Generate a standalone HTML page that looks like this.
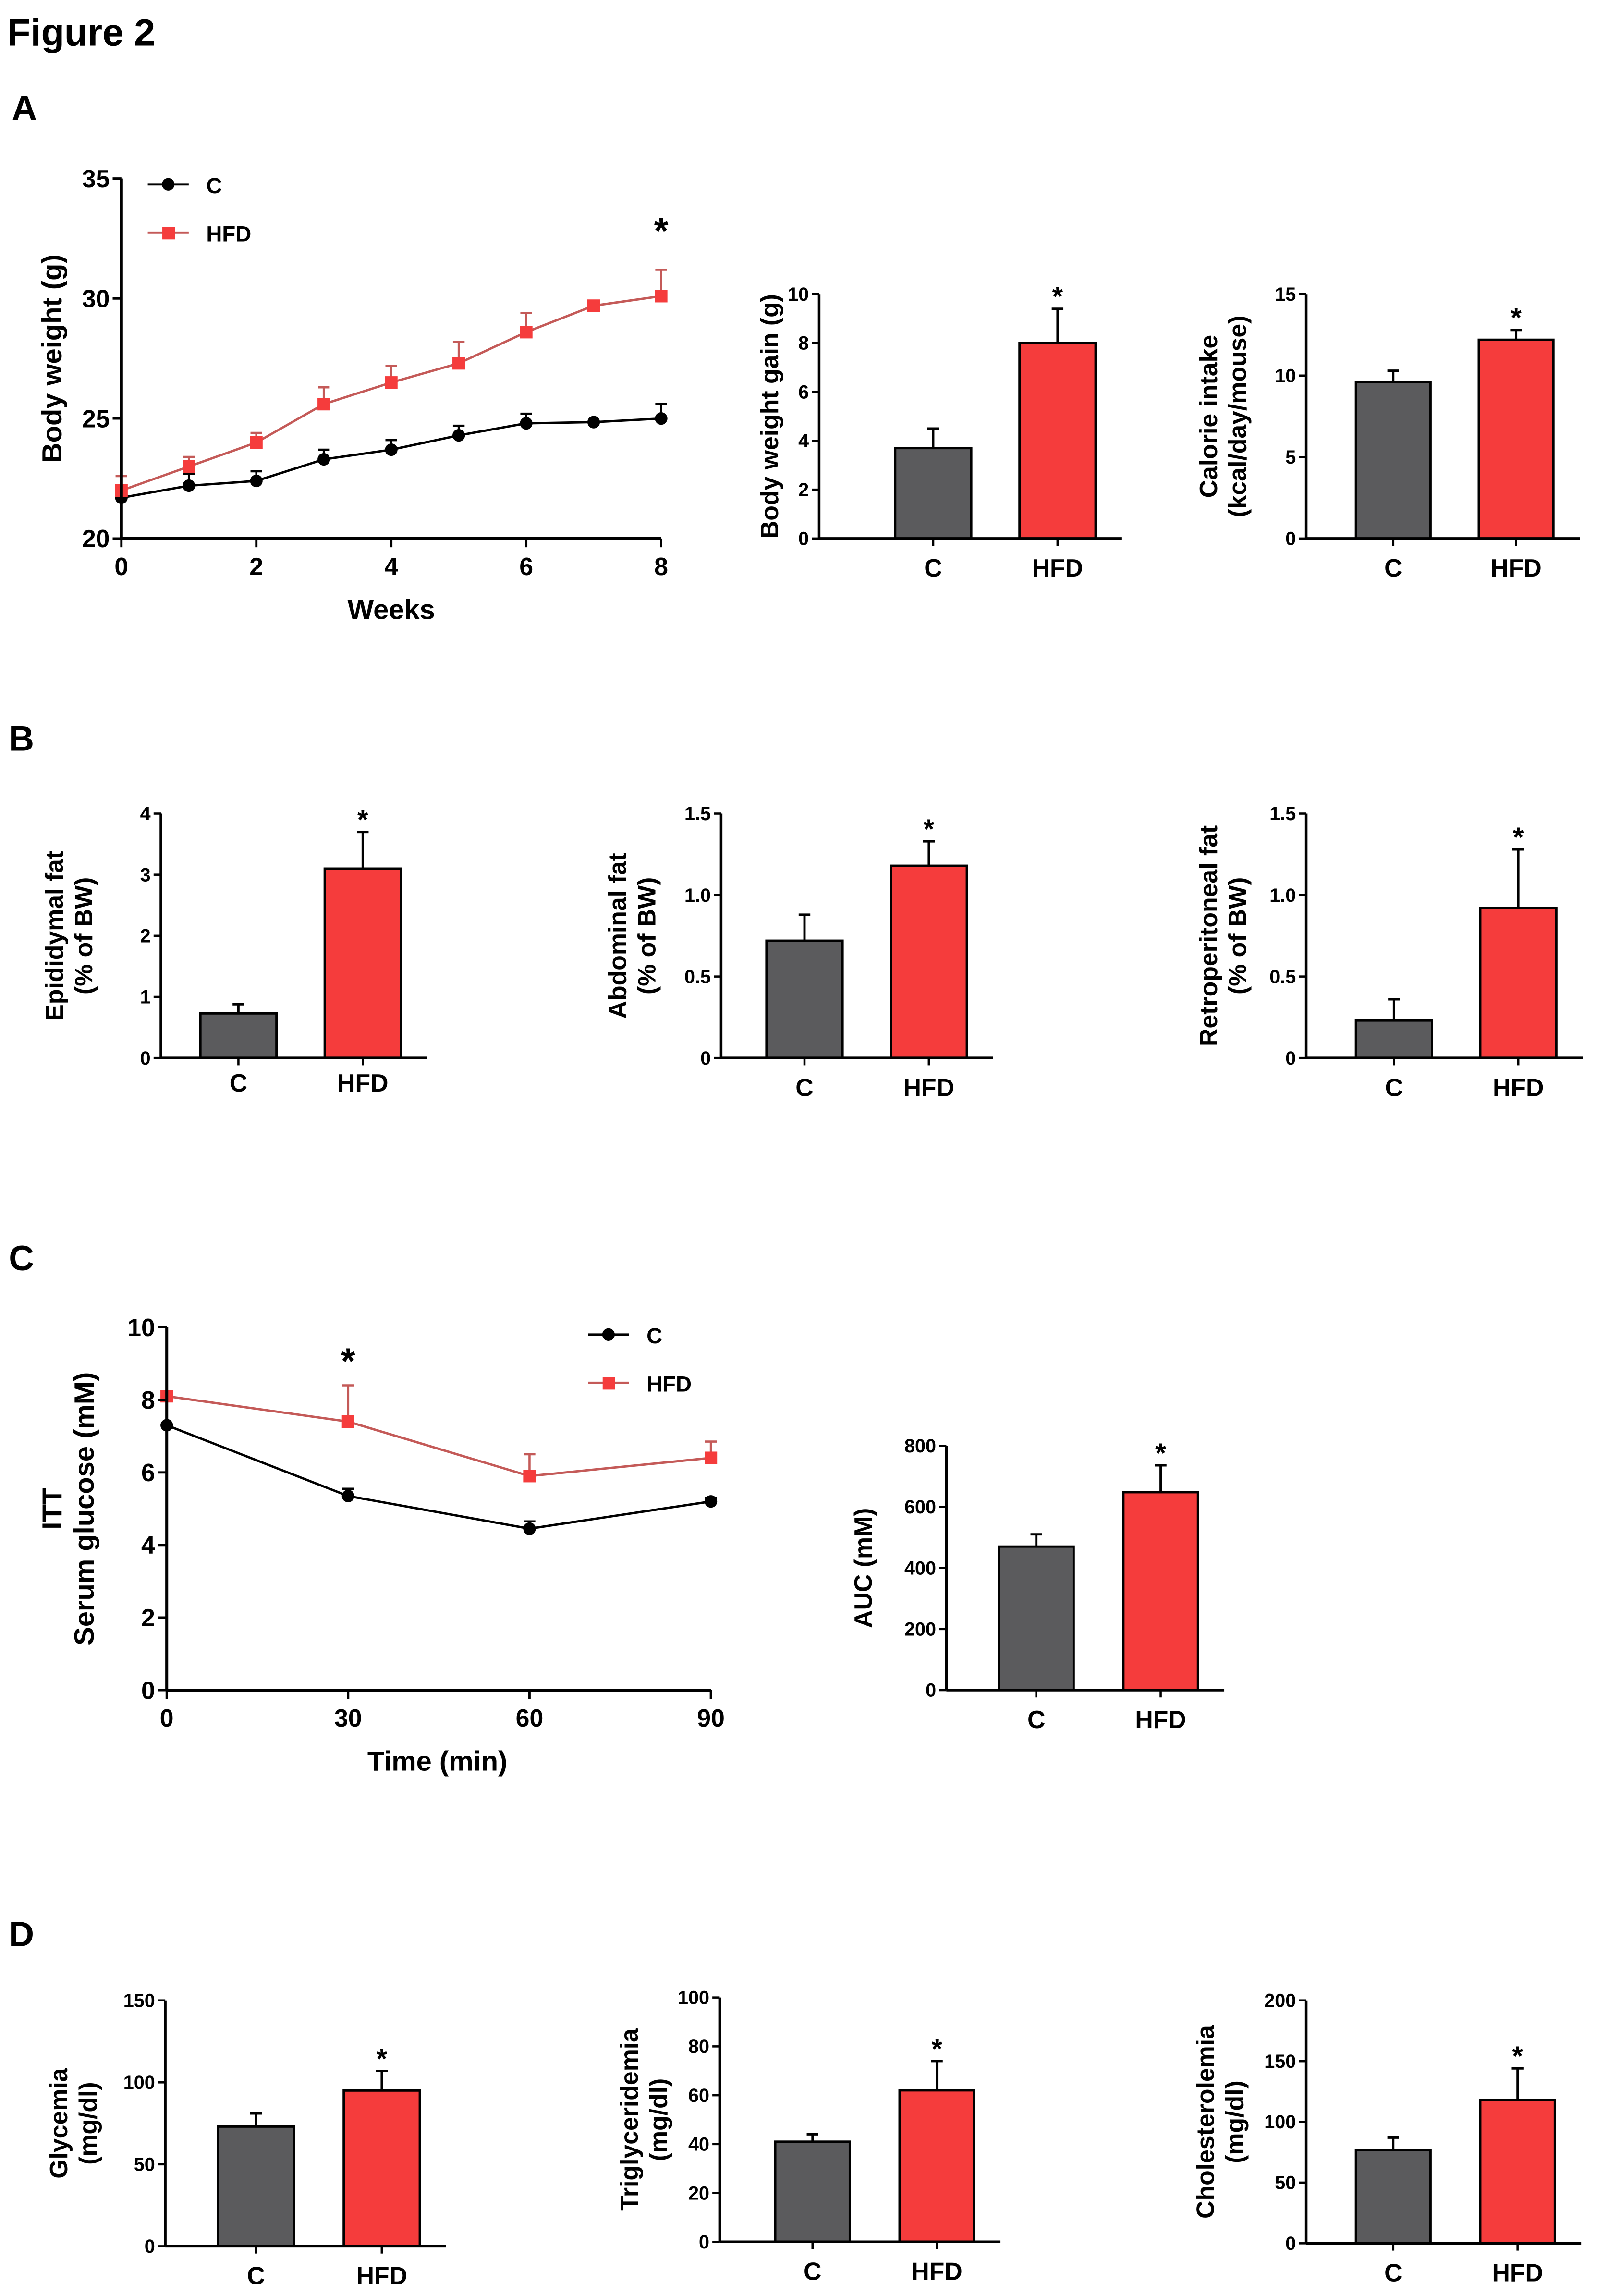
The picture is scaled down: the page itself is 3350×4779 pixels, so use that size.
<!DOCTYPE html>
<html><head><meta charset="utf-8">
<style>
html,body{margin:0;padding:0;background:#fff;}
svg{display:block;font-family:"Liberation Sans",Arial,sans-serif;}
</style></head>
<body>
<svg id="fig" width="3350" height="4779" viewBox="0 0 1100 1569" preserveAspectRatio="none" xmlns="http://www.w3.org/2000/svg">
<rect width="1100" height="1569" fill="#fff"/>
<text x="5" y="31" font-size="26" font-weight="bold">Figure 2</text>
<text x="8" y="82" font-size="24" font-weight="bold">A</text>
<text x="6" y="513" font-size="24" font-weight="bold">B</text>
<text x="6" y="868" font-size="24" font-weight="bold">C</text>
<text x="6" y="1330" font-size="24" font-weight="bold">D</text>
</svg>
<script>
// ---- Data ----
const weeks = [0,1,2,3,4,5,6,7,8];
const bwC = [21.7,22.2,22.4,23.3,23.7,24.3,24.8,24.85,25.0];
const bwCErr = [0.3,0.5,0.4,0.4,0.4,0.4,0.4,0,0.6];
const bwHFD = [22.0,23.0,24.0,25.6,26.5,27.3,28.6,29.7,30.1];
const bwHFDErr = [0.6,0.4,0.4,0.7,0.7,0.9,0.8,0,1.1];
const bwTicks = [20,25,30,35];
const weekTicks = [0,2,4,6,8];

const ittTime = [0,30,60,90];
const ittC = [7.3,5.35,4.45,5.2];
const ittCErr = [0,0.2,0.2,0.1];
const ittHFD = [8.1,7.4,5.9,6.4];
const ittHFDErr = [0,1.0,0.6,0.45];
const ittYTicks = [0,2,4,6,8,10];
const ittXTicks = [0,30,60,90];

const groups = ['C','HFD'];
const gainVals = [3.7,8.0];   const gainErr = [0.8,1.4];
const calVals = [9.6,12.2];   const calErr = [0.7,0.6];
const epiVals = [0.73,3.1];   const epiErr = [0.15,0.6];
const abdVals = [0.72,1.18];  const abdErr = [0.16,0.15];
const retVals = [0.23,0.92];  const retErr = [0.13,0.36];
const aucVals = [470,648];    const aucErr = [40,88];
const glyVals = [73,95];      const glyErr = [8,12];
const triVals = [41,62];      const triErr = [3,12];
const choVals = [77,118];     const choErr = [10,26];

const svg = document.getElementById('fig');
const NS = 'http://www.w3.org/2000/svg';
const GRAY = '#5b5b5d', RED = '#f53c3c', REDLINE = '#c45a58';

function mk(tag, attrs, parent){
  const e = document.createElementNS(NS, tag);
  for (const k in attrs) e.setAttribute(k, attrs[k]);
  (parent||svg).appendChild(e);
  return e;
}
function txt(x,y,s,size,anchor,parent,extra){
  const t = mk('text',Object.assign({x:x,y:y,'font-size':size,'font-weight':'bold','text-anchor':anchor||'middle'},extra||{}),parent);
  t.textContent = s;
  return t;
}
function yTitle(g,x,yc,lines,size){
  const sz = size||17;
  lines.forEach((l,i)=>{
    const t = txt(x + i*(sz+3), yc, l, sz, 'middle', g, {transform:`rotate(-90 ${x+i*(sz+3)} ${yc})`});
    
    
  });
}

function barChart(name, o){
  const g = mk('g',{});
  
  
  const ys = v => o.y0 - (v - 0)/o.max*(o.y0 - o.yTop);
  o.vals.forEach((v,i)=>{
    const x = o.bx[i];
    const top = ys(v), etop = ys(v + o.err[i]);
    const el = mk('line',{x1:x+o.bw/2,x2:x+o.bw/2,y1:top,y2:etop,stroke:'#000','stroke-width':1.6},g);
    
    
    const cap = mk('line',{x1:x+o.bw/2-4,x2:x+o.bw/2+4,y1:etop,y2:etop,stroke:'#000','stroke-width':1.6},g);
    
    
    const r = mk('rect',{x:x,y:top,width:o.bw,height:o.y0-top,fill:i?RED:GRAY,stroke:'#000','stroke-width':1.6},g);
    
    
    const lab = txt(x+o.bw/2, o.labY, groups[i], 17, 'middle', g);
    
    
    if (i===1){
      const s = txt(x+o.bw/2, etop-2, '*', 19, 'middle', g);
      
      
    }
  });
  const ax = mk('line',{x1:o.ax,x2:o.ax,y1:o.yTop,y2:o.y0,stroke:'#000','stroke-width':1.8},g);
  
  
  const bx = mk('line',{x1:o.ax,x2:o.bx[1]+o.bw+18,y1:o.y0,y2:o.y0,stroke:'#000','stroke-width':1.8},g);
  
  
  o.ticks.forEach((t,k)=>{
    const y = ys(t);
    mk('line',{x1:o.ax-5,x2:o.ax,y1:y,y2:y,stroke:'#000','stroke-width':1.5},g);
    const lbl = o.tickLabels ? o.tickLabels[k] : String(t);
    const tl = txt(o.ax-7, y+4.5, lbl, 13, 'end', g);
    
    
  });
  [0,1].forEach(i=>{
    const cx=o.bx[i]+o.bw/2;
    mk('line',{x1:cx,x2:cx,y1:o.y0,y2:o.y0+5,stroke:'#000','stroke-width':1.5},g);
  });
  yTitle(g, o.titleX, (o.y0+o.yTop)/2, o.title, 17);
}

function lineChart(name, o){
  const g = mk('g',{});
  
  
  const xs = v => o.x0 + (v - o.xmin)/(o.xmax-o.xmin)*(o.x1 - o.x0);
  const ys = v => o.y0 - (v - o.ymin)/(o.ymax-o.ymin)*(o.y0 - o.yTop);
  const series = [
    {vals:o.c, err:o.cErr, color:'#000', line:'#000', shape:'circle', name:'series-c'},
    {vals:o.h, err:o.hErr, color:RED, line:REDLINE, shape:'square', name:'series-hfd'}
  ];
  series.forEach(s=>{
    s.vals.forEach((v,i)=>{
      if (s.err[i]>0){
        const x=xs(o.x[i]), y=ys(v), ye=ys(v+s.err[i]);
        const e = mk('line',{x1:x,x2:x,y1:y,y2:ye,stroke:s.line,'stroke-width':1.5},g);
        
        
        mk('line',{x1:x-4,x2:x+4,y1:ye,y2:ye,stroke:s.line,'stroke-width':1.5},g);
      }
    });
  });
  series.forEach(s=>{
    const pts = s.vals.map((v,i)=>xs(o.x[i])+','+ys(v)).join(' ');
    const pl = mk('polyline',{points:pts,fill:'none',stroke:s.line,'stroke-width':1.6},g);
    
    
    s.vals.forEach((v,i)=>{
      const x=xs(o.x[i]), y=ys(v);
      let m;
      if (s.shape==='circle') m = mk('circle',{cx:x,cy:y,r:4.3,fill:s.color},g);
      else m = mk('rect',{x:x-4.3,y:y-4.3,width:8.6,height:8.6,fill:s.color},g);
      
      
    });
  });
  const ax = mk('line',{x1:o.x0,x2:o.x0,y1:o.yTop,y2:o.y0,stroke:'#000','stroke-width':2},g);
  
  
  const bx = mk('line',{x1:o.x0,x2:o.x1,y1:o.y0,y2:o.y0,stroke:'#000','stroke-width':2},g);
  
  
  o.yTicks.forEach(t=>{
    const y=ys(t);
    mk('line',{x1:o.x0-6,x2:o.x0,y1:y,y2:y,stroke:'#000','stroke-width':1.6},g);
    const tl = txt(o.x0-8, y+6, String(t), 17, 'end', g);
    
    
  });
  o.xTicks.forEach(t=>{
    const x=xs(t);
    mk('line',{x1:x,x2:x,y1:o.y0,y2:o.y0+6,stroke:'#000','stroke-width':1.6},g);
    const tl = txt(x, o.y0+25, String(t), 17, 'middle', g);
    
    
  });
  const xt = txt((o.x0+o.x1)/2 + (o.xTitleDx||0), o.y0+55, o.xTitle, 19, 'middle', g);
  
  
  yTitle(g, o.titleX, (o.y0+o.yTop)/2, o.yTitle, 19);
  const si = o.starIdx;
  const st = txt(xs(o.x[si]), ys(o.h[si]+o.hErr[si]) - o.starDy, '*', 25, 'middle', g);
  
  
  const L = o.legend;
  const lg = mk('g',{},g);
  
  
  mk('line',{x1:L.x,x2:L.x+28,y1:L.y,y2:L.y,stroke:'#000','stroke-width':1.6},lg);
  mk('circle',{cx:L.x+14,cy:L.y,r:4.3,fill:'#000'},lg);
  const t1 = txt(L.x+40, L.y+6, 'C', 15, 'start', lg);
  
  
  mk('line',{x1:L.x,x2:L.x+28,y1:L.y+33,y2:L.y+33,stroke:REDLINE,'stroke-width':1.6},lg);
  mk('rect',{x:L.x+10,y:L.y+29,width:8.6,height:8.6,fill:RED},lg);
  const t2 = txt(L.x+40, L.y+39, 'HFD', 15, 'start', lg);
  
  
}

lineChart('body-weight-chart',{x:weeks,c:bwC,cErr:bwCErr,h:bwHFD,hErr:bwHFDErr,
  x0:83,x1:452,xmin:0,xmax:8,y0:368,yTop:122,ymin:20,ymax:35,
  yTicks:bwTicks,xTicks:weekTicks,xTitle:'Weeks',yTitle:['Body weight (g)'],titleX:42,
  starIdx:8,starDy:18,legend:{x:101,y:126}});
barChart('body-weight-gain-chart',{vals:gainVals,err:gainErr,ax:560,y0:368,yTop:201,max:10,ticks:[0,2,4,6,8,10],
  bx:[612,697],bw:52,labY:394,title:['Body weight gain (g)'],titleX:532});
barChart('calorie-intake-chart',{vals:calVals,err:calErr,ax:893,y0:368,yTop:201,max:15,ticks:[0,5,10,15],
  bx:[927,1011],bw:51,labY:394,title:['Calorie intake','(kcal/day/mouse)'],titleX:832});
barChart('epididymal-fat-chart',{vals:epiVals,err:epiErr,ax:110,y0:723,yTop:556,max:4,ticks:[0,1,2,3,4],
  bx:[137,222],bw:52,labY:746,title:['Epididymal fat','(% of BW)'],titleX:43});
barChart('abdominal-fat-chart',{vals:abdVals,err:abdErr,ax:493,y0:723,yTop:556,max:1.5,ticks:[0,0.5,1.0,1.5],tickLabels:['0','0.5','1.0','1.5'],
  bx:[524,609],bw:52,labY:749,title:['Abdominal fat','(% of BW)'],titleX:428});
barChart('retroperitoneal-fat-chart',{vals:retVals,err:retErr,ax:893,y0:723,yTop:556,max:1.5,ticks:[0,0.5,1.0,1.5],tickLabels:['0','0.5','1.0','1.5'],
  bx:[927,1012],bw:52,labY:749,title:['Retroperitoneal fat','(% of BW)'],titleX:832});
lineChart('itt-chart',{x:ittTime,c:ittC,cErr:ittCErr,h:ittHFD,hErr:ittHFDErr,
  x0:114,x1:486,xmin:0,xmax:90,y0:1155,yTop:907,ymin:0,ymax:10,
  yTicks:ittYTicks,xTicks:ittXTicks,xTitle:'Time (min)',xTitleDx:-1,yTitle:['ITT','Serum glucose (mM)'],titleX:42,
  starIdx:1,starDy:8,legend:{x:402,y:912}});
barChart('auc-chart',{vals:aucVals,err:aucErr,ax:647,y0:1155,yTop:988,max:800,ticks:[0,200,400,600,800],
  bx:[683,768],bw:51,labY:1181,title:['AUC (mM)'],titleX:596});
barChart('glycemia-chart',{vals:glyVals,err:glyErr,ax:113,y0:1535,yTop:1367,max:150,ticks:[0,50,100,150],
  bx:[149,235],bw:52,labY:1561,title:['Glycemia','(mg/dl)'],titleX:46});
barChart('triglyceridemia-chart',{vals:triVals,err:triErr,ax:492,y0:1532,yTop:1365,max:100,ticks:[0,20,40,60,80,100],
  bx:[530,615],bw:51,labY:1558,title:['Triglyceridemia','(mg/dl)'],titleX:436});
barChart('cholesterolemia-chart',{vals:choVals,err:choErr,ax:893,y0:1533,yTop:1367,max:200,ticks:[0,50,100,150,200],
  bx:[927,1012],bw:51,labY:1559,title:['Cholesterolemia','(mg/dl)'],titleX:830});
</script>
</body></html>
